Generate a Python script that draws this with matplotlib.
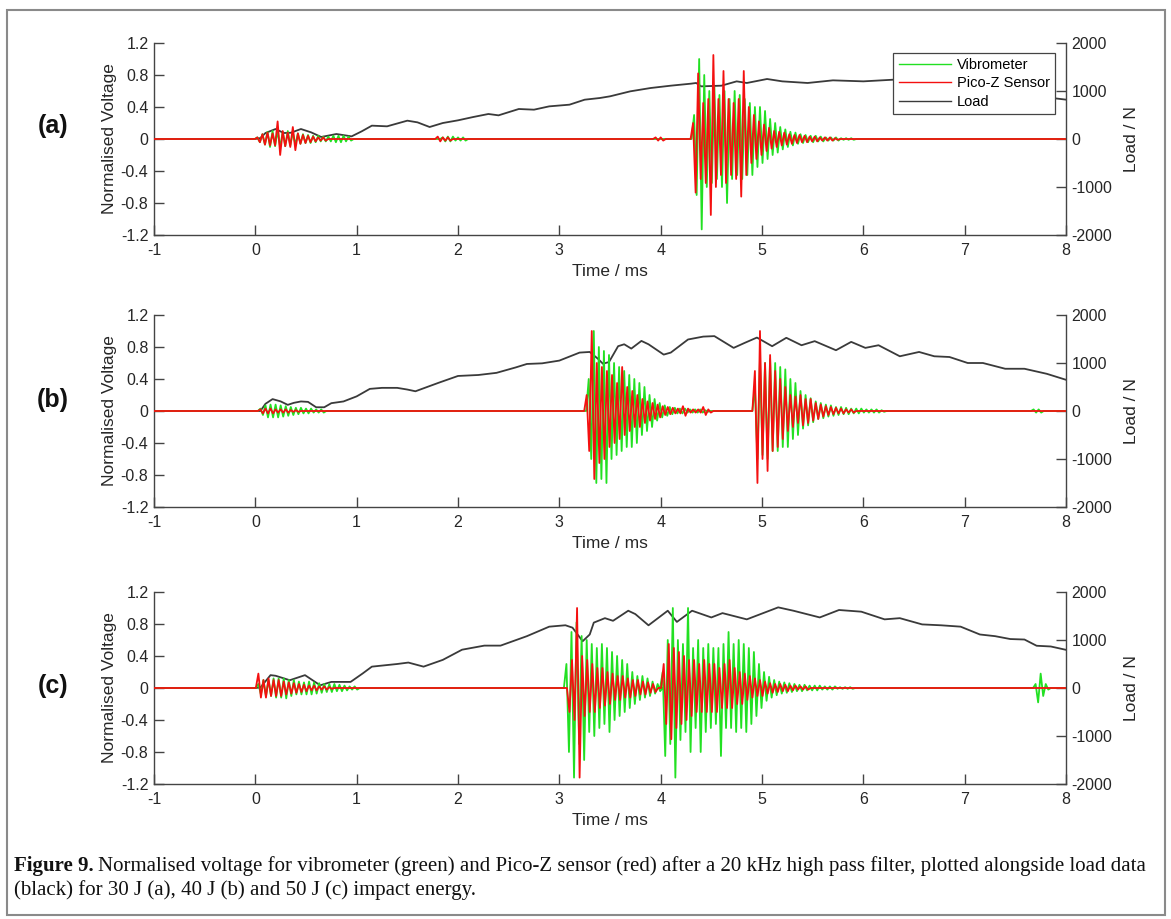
import matplotlib
matplotlib.use("Agg")
import matplotlib.pyplot as plt
from matplotlib.patches import Rectangle

plt.rcParams['font.family'] = ['Liberation Sans', 'DejaVu Sans']

# ---------------- data ----------------
STEP = 0.025  # ms between successive signal peaks

# Panel (a) 30 J
load_a_t = [-1, 0, 0.05, 0.1, 0.2, 0.28, 0.35, 0.45, 0.55, 0.65, 0.8, 0.95, 1.05, 1.15, 1.3, 1.5, 1.6,
            1.72, 1.85, 2.0, 2.15, 2.3, 2.4, 2.6, 2.75, 2.9, 3.1, 3.25, 3.4, 3.5, 3.7, 3.9, 4.1, 4.3,
            4.35, 4.4, 4.6, 4.75, 4.85, 5.05, 5.2, 5.45, 5.7, 6.0, 6.3, 6.8, 7.3, 7.85, 7.88, 8.0]
load_a_n = [0, 0, 20, 125, 208, 125, 130, 208, 139, 42, 104, 55, 160, 278, 264, 382, 347,
            250, 333, 389, 458, 521, 493, 625, 611, 680, 715, 819, 854, 889, 993, 1062, 1111, 1153,
            1167, 1097, 1111, 1201, 1167, 1250, 1201, 1167, 1222, 1201, 1236, 1240, 1230, 920, 850, 820]
vib_a = [
    (0.02, [.02, -.04, .06, -.07, .09, -.1, .1, -.09, .1, -.1, .09, -.09, .1, -.08, .08, -.07, .07, -.06,
            .06, -.05, .05, -.05, .04, -.04, .04, -.03, .03, -.03, .03, -.03, .04, -.04, .04, -.04, .04,
            -.03, .03, -.02]),
    (1.85, [.02, -.03, .03, -.03, .03, -.02, .02, -.02, .02, -.02]),
    (4.33, [.3, -.7, 1.0, -1.13, .8, -.6, .6, -.55, .65, -.5, .55, -.6, .6, -.8, .5, -.5, .6, -.45, .55,
            -.5, .5, -.45, .45, -.45, .4, -.35, .4, -.3, .35, -.25, .25, -.2, .2, -.17, .15, -.13, .12,
            -.1, .09, -.08, .08, -.06, .06, -.05, .05, -.04, .04, -.04, .04, -.03, .03, -.03, .02, -.02,
            .02, -.02, .02, -.02, .01, -.01, .01, -.01, .01, -.01]),
]
pico_a = [
    (0.02, [.02, -.04, .06, -.07, .08, -.08, .07, -.08, .22, -.2, .1, -.09, .08, -.1, .15, -.14, .07,
            -.06, .05, -.05, .04, -.04, .03, -.03, .02, -.02, .02, -.02]),
    (1.8, [.03, -.03, .02, -.02, .02, -.02]),
    (3.95, [.02, -.02, .02, -.02]),
    (4.32, [.2, -.67, .82, -.5, .45, -.55, .5, -.95, 1.05, -.6, .5, -.45, .85, -.55, .5, -.45, .45,
            -.5, .5, -.72, .85, -.45, .4, -.3, .3, -.25, .22, -.2, .18, -.15, .14, -.12, .1, -.1, .09,
            -.08, .08, -.07, .06, -.06, .05, -.05, .05, -.04, .04, -.04, .03, -.03, .03, -.03, .02,
            -.02, .02, -.02, .02, -.02, .01, -.01]),
]

# Panel (b) 40 J
load_b_t = [-1, 0, 0.05, 0.1, 0.17, 0.25, 0.32, 0.38, 0.45, 0.52, 0.6, 0.68, 0.75, 0.87, 1.0, 1.13,
            1.25, 1.4, 1.5, 1.58, 1.81, 2.0, 2.2, 2.38, 2.57, 2.68, 2.83, 3.0, 3.2, 3.3, 3.38, 3.43,
            3.49, 3.58, 3.64, 3.71, 3.81, 3.88, 4.03, 4.1, 4.27, 4.42, 4.53, 4.72, 4.83, 4.95, 5.1,
            5.24, 5.39, 5.52, 5.73, 5.88, 6.02, 6.15, 6.36, 6.55, 6.7, 6.85, 7.03, 7.18, 7.4, 7.59,
            7.81, 8.0]
load_b_n = [0, 0, 0, 150, 248, 200, 128, 170, 199, 190, 78, 78, 163, 199, 305, 461,
            482, 482, 447, 411, 589, 730, 750, 795, 908, 980, 993, 1050, 1217, 1230, 1090, 985,
            1020, 1350, 1390, 1300, 1460, 1390, 1175, 1217, 1490, 1550, 1560, 1315, 1420, 1530, 1350,
            1525, 1370, 1455, 1266, 1440, 1315, 1370, 1140, 1230, 1140, 1125, 1000, 1000, 880, 880,
            775, 650]
vib_b = [
    (0.05, [.03, -.05, .07, -.08, .08, -.08, .08, -.08, .07, -.07, .06, -.06, .05, -.05, .04, -.04,
            .04, -.03, .03, -.03, .03, -.02, .02, -.02, .02, -.02]),
    (3.29, [.4, -.6, 1.0, -.9, .8, -.85, .75, -.9, .7, -.6, .6, -.55, .55, -.5, .5, -.45, .45, -.45,
            .4, -.4, .35, -.3, .3, -.25, .2, -.2, .15, -.12, .1, -.08, .07, -.06, .05, -.04, .04, -.03,
            .03, -.03, .03, -.02, .02, -.02, .02, -.02, .02, -.02, .01, -.01]),
    (4.93, [.3, -.6, .65, -.55, .6, -.6, .65, -.5, .6, -.5, .55, -.45, .52, -.45, .4, -.35, .35, -.3,
            .25, -.22, .2, -.18, .16, -.14, .12, -.1, .1, -.09, .08, -.07, .07, -.06, .05, -.05, .05,
            -.04, .04, -.04, .03, -.03, .03, -.03, .03, -.02, .02, -.02, .02, -.02, .02, -.02, .01,
            -.01]),
    (7.68, [.02, -.02, .02, -.02]),
]
pico_b = [
    (0.05, [.02, -.03, .03, -.03, .03, -.03, .02, -.02, .02, -.02, .02, -.02, .01, -.01, .01, -.01]),
    (3.27, [.2, -.5, 1.0, -.85, .6, -.65, .55, -.6, .5, -.45, .45, -.4, .35, -.35, .55, -.3, .3, -.25,
            .25, -.2, .2, -.2, .15, -.15, .12, -.12, .1, -.1, .08, -.08, .06, -.05, .05, -.04, .04,
            -.03, .03, -.03, .06, -.06, .03, -.02, .02, -.02, .02, -.02, .05, -.05, .02, -.02]),
    (4.93, [.5, -.9, 1.0, -.6, .6, -.75, .7, -.5, .5, -.45, .4, -.35, .3, -.25, .2, -.2, .18, -.15,
            .2, -.18, .15, -.15, .15, -.12, .1, -.1, .08, -.07, .06, -.05, .05, -.04, .04, -.03, .03,
            -.03, .02, -.02, .02, -.02]),
]

# Panel (c) 50 J
load_c_t = [-1, 0, 0.05, 0.15, 0.2, 0.34, 0.49, 0.64, 0.75, 0.94, 1.06, 1.15, 1.4, 1.51, 1.66, 1.85,
            2.04, 2.26, 2.42, 2.68, 2.9, 3.06, 3.13, 3.23, 3.3, 3.34, 3.45, 3.53, 3.68, 3.75, 3.88,
            4.07, 4.16, 4.31, 4.5, 4.61, 4.85, 5.16, 5.31, 5.57, 5.76, 5.98, 6.21, 6.36, 6.58, 6.77,
            6.96, 7.15, 7.3, 7.45, 7.59, 7.71, 7.85, 8.0]
load_c_n = [0, 0, 10, 268, 255, 162, 268, 56, 127, 127, 304, 445, 500, 530, 445, 586,
            798, 883, 883, 1080, 1278, 1307, 1257, 974, 1115, 1362, 1455, 1400, 1610, 1540, 1306,
            1610, 1377, 1610, 1470, 1560, 1430, 1680, 1610, 1470, 1625, 1590, 1430, 1455, 1325, 1306,
            1278, 1115, 1080, 1020, 1010, 880, 865, 795]
vib_c = [
    (0.03, [.05, -.08, .1, -.1, .1, -.1, .12, -.12, .12, -.12, .12, -.13, .1, -.1, .1, -.08, .08, -.08,
            .07, -.08, .08, -.08, .07, -.07, .06, -.06, .05, -.05, .05, -.05, .05, -.04, .04, -.04,
            .03, -.03, .02, -.02, .02, -.02]),
    (3.07, [.3, -.8, .7, -1.12, .82, -.7, .65, -.9, .6, -.55, .55, -.6, .5, -.5, .55, -.45, .5, -.55,
            .45, -.4, .4, -.35, .35, -.3, .3, -.25, .2, -.2, .15, -.15, .15, -.12, .12, -.1, .08, -.07,
            .05, -.04]),
    (4.02, [.2, -.85, .6, -.7, 1.0, -1.12, .6, -.65, .55, -.55, 1.0, -.8, .5, -.5, .6, -.8, .5, -.55,
            .55, -.5, .5, -.45, .5, -.85, .55, -.5, .7, -.5, .55, -.55, .6, -.5, .55, -.55, .5, -.45,
            .45, -.35, .3, -.25, .2, -.16, .14, -.12, .1, -.09, .08, -.07, .07, -.06, .06, -.05, .05,
            -.04, .04, -.04, .04, -.03, .03, -.03, .03, -.03, .03, -.02, .02, -.02, .02, -.02, .02,
            -.01, .01, -.01, .01, -.01, .01, -.01]),
    (7.7, [.05, -.18, .18, -.1, .05, -.02]),
]
pico_c = [
    (0.03, [.18, -.12, .1, -.12, .12, -.1, .1, -.1, .1, -.1, .08, -.08, .07, -.07, .06, -.06, .05,
            -.05, .04, -.04, .03, -.03, .03, -.03, .02, -.02, .02, -.02, .01, -.01]),
    (3.1, [-.3, .35, -.4, 1.0, -1.12, .4, -.35, .35, -.3, .3, -.3, .25, -.25, .25, -.22, .2, -.2, .18,
           -.15, .15, -.15, .15, -.12, .12, -.12, .1, -.1, .1, -.08, .08, -.08, .07, -.06, .05, -.05]),
    (4.03, [.3, -.45, .55, -.64, .5, -.5, .45, -.45, .4, -.4, .35, -.35, .35, -.3, .3, -.3, .35, -.3,
            .3, -.3, .3, -.3, .25, -.25, .3, -.25, .35, -.25, .25, -.2, .2, -.2, .18, -.15, .15, -.12,
            .12, -.1, .1, -.1, .08, -.07, .06, -.06, .05, -.05, .05, -.04, .04, -.04, .03, -.03, .03,
            -.02, .02, -.02, .02, -.02]),
]

panel_labels = ['(a)', '(b)', '(c)']
x_ticks = [-1, 0, 1, 2, 3, 4, 5, 6, 7, 8]
v_ticks = [-1.2, -0.8, -0.4, 0, 0.4, 0.8, 1.2]
v_ticklabels = ['-1.2', '-0.8', '-0.4', '0', '0.4', '0.8', '1.2']
n_ticks = [-2000, -1000, 0, 1000, 2000]
legend_labels = ['Vibrometer', 'Pico-Z Sensor', 'Load']

# ---------------- styling ----------------
GREEN = '#22e022'
RED = '#f41010'
LOADC = '#3a3a3a'
AXC = '#444444'
TXT = '#262626'


def build(bursts):
    t, v = [-1.0], [0.0]
    for start, vals in bursts:
        t.append(start - STEP)
        v.append(0.0)
        for i, val in enumerate(vals):
            t.append(start + i * STEP)
            v.append(val)
        t.append(start + len(vals) * STEP)
        v.append(0.0)
    t.append(8.0)
    v.append(0.0)
    return t, v


W, H = 1171, 919
fig = plt.figure(figsize=(W / 100, H / 100), dpi=100)
fig.patch.set_facecolor('white')

# outer frame
fig.patches.append(Rectangle((7 / W, 1 - 915 / H), (1165 - 7) / W, (915 - 10) / H,
                             transform=fig.transFigure, fill=False, edgecolor='#8a8a8a',
                             linewidth=1.5))

tops = [43, 315, 592]
label_y = [126, 400, 686]
ax_h = 192
left_px, right_px = 154, 1066
panels = [(load_a_t, load_a_n, vib_a, pico_a),
          (load_b_t, load_b_n, vib_b, pico_b),
          (load_c_t, load_c_n, vib_c, pico_c)]

for k, (lt, ln, vib, pico) in enumerate(panels):
    top = tops[k]
    rect = [left_px / W, 1 - (top + ax_h) / H, (right_px - left_px) / W, ax_h / H]
    ax = fig.add_axes(rect)
    ax2 = ax.twinx()
    ax.set_zorder(2)
    ax.patch.set_visible(False)
    ax2.set_zorder(1)

    tv, vv = build(vib)
    tp, vp = build(pico)
    h1, = ax.plot(tv, vv, color=GREEN, lw=1.3, zorder=2)
    h2, = ax.plot(tp, vp, color=RED, lw=1.3, zorder=3)
    h3, = ax2.plot(lt, ln, color=LOADC, lw=1.3)

    ax.set_xlim(-1, 8)
    ax.set_ylim(-1.2, 1.2)
    ax2.set_ylim(-2000, 2000)
    ax.set_xticks(x_ticks)
    ax.set_xticklabels([str(x) for x in x_ticks])
    ax.set_yticks(v_ticks)
    ax.set_yticklabels(v_ticklabels)
    ax2.set_yticks(n_ticks)
    ax2.set_yticklabels([str(n) for n in n_ticks])

    for a in (ax, ax2):
        a.spines['top'].set_visible(False)
        for s in a.spines.values():
            s.set_color(AXC)
            s.set_linewidth(1.0)
    ax.spines['right'].set_visible(False)
    ax2.spines['left'].set_visible(False)
    ax2.spines['bottom'].set_visible(False)

    ax.tick_params(axis='both', direction='in', length=7, width=1, colors=AXC,
                   labelcolor=TXT, labelsize=11.5, pad=4)
    ax.tick_params(axis='x', pad=6)
    ax2.tick_params(axis='y', direction='in', length=7, width=1, colors=AXC,
                    labelcolor=TXT, labelsize=11.5, pad=4)

    ax.set_ylabel('Normalised Voltage', fontsize=12.5, color=TXT, labelpad=3)
    ax2.set_ylabel('Load / N', fontsize=12.5, color=TXT, labelpad=8)
    ax.set_xlabel('Time / ms', fontsize=12.5, color=TXT, labelpad=4)

    fig.text(53 / W, 1 - label_y[k] / H, panel_labels[k], fontsize=18, fontweight='bold',
             ha='center', va='center', color='#111111')

    if k == 0:
        leg = ax2.legend([h1, h2, h3], legend_labels, loc='upper right',
                         bbox_to_anchor=((1055 - left_px) / (right_px - left_px), 1 - 10 / ax_h),
                         fontsize=10.5, frameon=True, fancybox=False, framealpha=1,
                         edgecolor=AXC, handlelength=3.6, borderpad=0.35, labelspacing=0.3,
                         handletextpad=0.4, borderaxespad=0)
        leg.get_frame().set_linewidth(0.9)
        for line in leg.get_lines():
            line.set_linewidth(1.0)
        leg.remove()
        ax.add_artist(leg)
        leg.set_zorder(10)

# caption
renderer = fig.canvas.get_renderer()
CAP_FS = 15
cap_y = 1 - 866 / H
t1 = fig.text(14 / W, cap_y, 'Figure 9.', fontsize=CAP_FS, fontweight='bold',
              family='Liberation Serif', ha='left', va='center', color='#111111')
bb = t1.get_window_extent(renderer=renderer)
fig.text((bb.x1 + 4) / W, cap_y,
         'Normalised voltage for vibrometer (green) and Pico-Z sensor (red) after a 20 kHz high pass '
         'filter, plotted alongside load data',
         fontsize=CAP_FS, family='Liberation Serif', ha='left', va='center', color='#111111')
fig.text(14 / W, 1 - 890 / H, '(black) for 30 J (a), 40 J (b) and 50 J (c) impact energy.',
         fontsize=CAP_FS, family='Liberation Serif', ha='left', va='center', color='#111111')

fig.savefig('out.png', dpi=100, facecolor='white')
